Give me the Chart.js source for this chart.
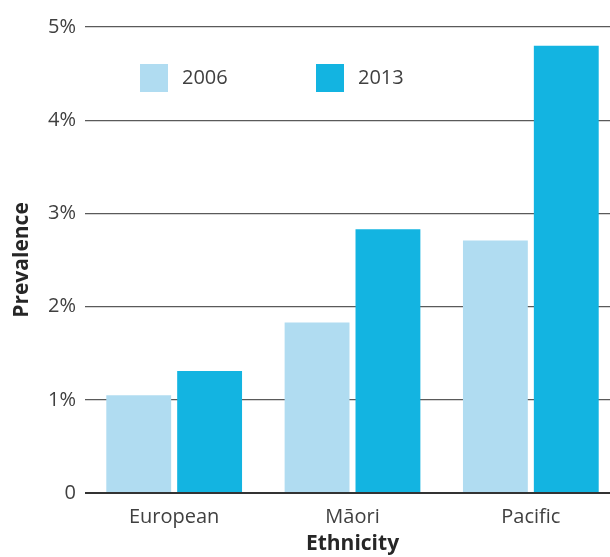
<!DOCTYPE html>
<html>
<head>
<meta charset="utf-8">
<script src="https://cdn.jsdelivr.net/npm/chart.js@4.4.0/dist/chart.umd.min.js"></script>
<style>
  html, body { margin: 0; padding: 0; overflow: hidden; background: #fff; }
</style>
</head>
<body>
<canvas id="prevChart" width="620" height="557"></canvas>
<script>
const categories = ['European', 'Māori', 'Pacific'];
const years = ['2006', '2013'];
const values2006 = [1.05, 1.83, 2.71];
const values2013 = [1.31, 2.83, 4.80];
const yTicks = [0, 1, 2, 3, 4, 5];

const FONT = "'Open Sans', 'Noto Sans', sans-serif";
const TEXT = '#404040';

// legend sits inside the plot area, so draw it by hand
const insideLegend = {
  id: 'insideLegend',
  afterDraw(chart) {
    const ctx = chart.ctx;
    const area = chart.chartArea;
    ctx.save();
    ctx.font = '20px ' + FONT;
    ctx.textBaseline = 'middle';
    chart.data.datasets.forEach((ds, i) => {
      const x = area.left + 55 + i * 176;
      const y = area.top + 37;
      ctx.fillStyle = ds.backgroundColor;
      ctx.fillRect(x, y, 28, 28);
      ctx.fillStyle = TEXT;
      ctx.fillText(ds.label, x + 42, y + 14);
    });
    ctx.restore();
  }
};

const ctx = document.getElementById('prevChart').getContext('2d');
new Chart(ctx, {
  type: 'bar',
  data: {
    labels: categories,
    datasets: [
      { label: years[0], data: values2006, backgroundColor: '#b0dcf1' },
      { label: years[1], data: values2013, backgroundColor: '#13b4e1' }
    ]
  },
  options: {
    responsive: false,
    animation: false,
    layout: { padding: { top: 27, left: 0, right: 0, bottom: 0 } },
    categoryPercentage: 0.795,
    barPercentage: 0.915,
    plugins: {
      legend: { display: false },
      tooltip: { enabled: false }
    },
    scales: {
      x: {
        grid: { display: false },
        border: { display: false },
        ticks: { color: TEXT, font: { family: FONT, size: 20 }, padding: 4 },
        title: {
          display: true,
          text: 'Ethnicity',
          color: '#262626',
          font: { family: FONT, size: 21, weight: 'bold' },
          padding: 0
        },
        afterFit: (scale) => { scale.height = 64; }
      },
      y: {
        min: 0,
        max: 5,
        afterBuildTicks: (scale) => { scale.ticks = yTicks.map(v => ({ value: v })); },
        grid: {
          color: (c) => c.tick && c.tick.value === 0 ? '#333' : '#5a5a5a',
          lineWidth: (c) => c.tick && c.tick.value === 0 ? 2 : 1.3,
          drawTicks: false
        },
        border: { display: false },
        ticks: {
          color: TEXT,
          font: { family: FONT, size: 20 },
          padding: 9,
          callback: (v) => v === 0 ? '0' : v + '%'
        },
        title: {
          display: true,
          text: 'Prevalence',
          color: '#262626',
          font: { family: FONT, size: 21, weight: 'bold' },
          padding: { top: 9, bottom: 0 }
        },
        afterFit: (scale) => { scale.width = 85; }
      }
    }
  },
  plugins: [insideLegend]
});
</script>
</body>
</html>
